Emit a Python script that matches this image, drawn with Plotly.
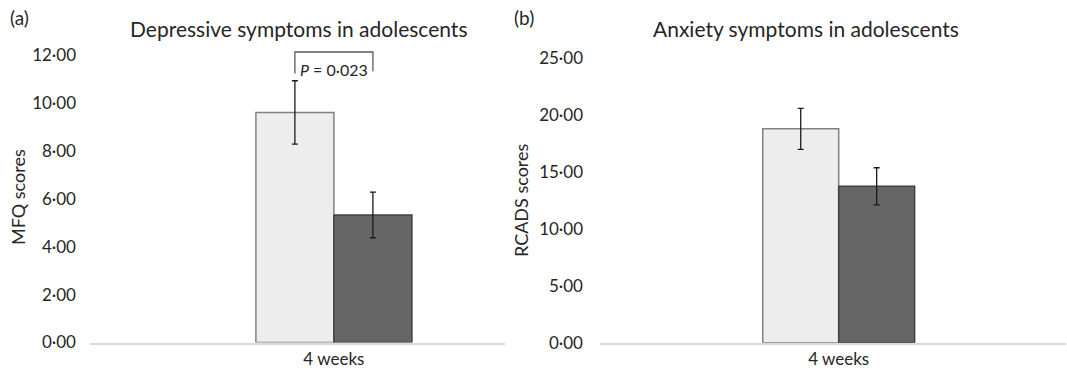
import plotly.graph_objects as go

W, H = 1067, 370

categories = ["4 weeks"]
groups = ["Group 1", "Group 2"]

# Panel (a): depressive symptoms (MFQ)
mfq_means = [9.60, 5.32]
mfq_errors = [1.32, 0.95]
mfq_ticks = [0, 2, 4, 6, 8, 10, 12]
mfq_ticktext = ["0·00", "2·00", "4·00", "6·00", "8·00", "10·00", "12·00"]
p_text = "<i>P</i> = 0·023"

# Panel (b): anxiety symptoms (RCADS)
rcads_means = [18.80, 13.75]
rcads_errors = [1.80, 1.63]
rcads_ticks = [0, 5, 10, 15, 20, 25]
rcads_ticktext = ["0·00", "5·00", "10·00", "15·00", "20·00", "25·00"]

fills = ["#ededed", "#666666"]
outlines = ["#808080", "#404040"]
FONT = "Lato"
TXT = "#262626"

fig = go.Figure()

def add_bars(means, errs, xa, ya):
    for i in range(2):
        fig.add_trace(go.Bar(
            x=categories, y=[means[i]], name=groups[i],
            offsetgroup=str(i),
            marker=dict(color=fills[i], line=dict(color=outlines[i], width=1.5)),
            error_y=dict(type="data", array=[errs[i]], visible=True,
                         color="#1a1a1a", thickness=1.3, width=3),
            xaxis=xa, yaxis=ya, showlegend=False, hoverinfo="skip",
        ))

add_bars(mfq_means, mfq_errors, "x", "y")
add_bars(rcads_means, rcads_errors, "x2", "y2")

def px_x(p):
    return p / W

def px_y(p):
    return 1 - p / H

ya_top = 12.6
axis_common = dict(showgrid=False, zeroline=False, automargin=False, fixedrange=True)

fig.update_layout(
    width=W, height=H,
    margin=dict(l=0, r=0, t=0, b=0),
    paper_bgcolor="white", plot_bgcolor="white",
    bargap=0.4, bargroupgap=0,
    barmode="group",
    font=dict(family=FONT, size=17, color=TXT),
    xaxis=dict(domain=[px_x(90), px_x(505)], range=[-0.938, 0.658],
               showline=True, linecolor="#d9d9d9", linewidth=1.5,
               ticks="", tickfont=dict(size=17, color=TXT), anchor="y",
               **axis_common),
    yaxis=dict(domain=[px_y(342.5), px_y(342.5 - ya_top * 23.97)], range=[0, ya_top],
               tickvals=mfq_ticks, ticktext=mfq_ticktext, showline=False, ticks="",
               ticklabelstandoff=13, tickfont=dict(size=17, color=TXT), anchor="x",
               **axis_common),
    xaxis2=dict(domain=[px_x(600), px_x(1066)], range=[-0.943, 0.898],
                showline=True, linecolor="#d9d9d9", linewidth=1.5,
                ticks="", tickfont=dict(size=17, color=TXT), anchor="y2",
                **axis_common),
    yaxis2=dict(domain=[px_y(342.7), px_y(58.3)], range=[0, 25],
                tickvals=rcads_ticks, ticktext=rcads_ticktext, showline=False, ticks="",
                ticklabelstandoff=16, tickfont=dict(size=17, color=TXT), anchor="x2",
                **axis_common),
)

# Significance bracket between the two bar centres of panel (a)
half = (1 - 0.4) / 4
top_err = max(m + e for m, e in zip(mfq_means, mfq_errors))
br_top = top_err + 1.2
fig.add_shape(type="path", xref="x", yref="y",
              path=f"M {-half},{br_top - 0.9} L {-half},{br_top} L {half},{br_top} L {half},{br_top - 0.8}",
              line=dict(color="#595959", width=1.3))
fig.add_annotation(x=0, y=br_top - 0.72, xref="x", yref="y", text=p_text, showarrow=False,
                   font=dict(size=16, color=TXT))

ann = [
    ("(a)", 19, 18, 19, 0),
    ("(b)", 524, 18, 19, 0),
    ("Depressive symptoms in adolescents", 298, 28, 21, 0),
    ("Anxiety symptoms in adolescents", 806, 28, 21, 0),
    ("MFQ scores", 18, 197, 18, -90),
    ("RCADS scores", 521, 200, 18, -90),
]
for text, x, y, size, ang in ann:
    fig.add_annotation(x=px_x(x), y=px_y(y), xref="paper", yref="paper", text=text,
                       showarrow=False, textangle=ang, xanchor="center", yanchor="middle",
                       font=dict(size=size, color=TXT))

fig.write_html("out.html", config={"displayModeBar": False},
               post_script="document.body.style.margin='0';document.body.style.padding='0';")
